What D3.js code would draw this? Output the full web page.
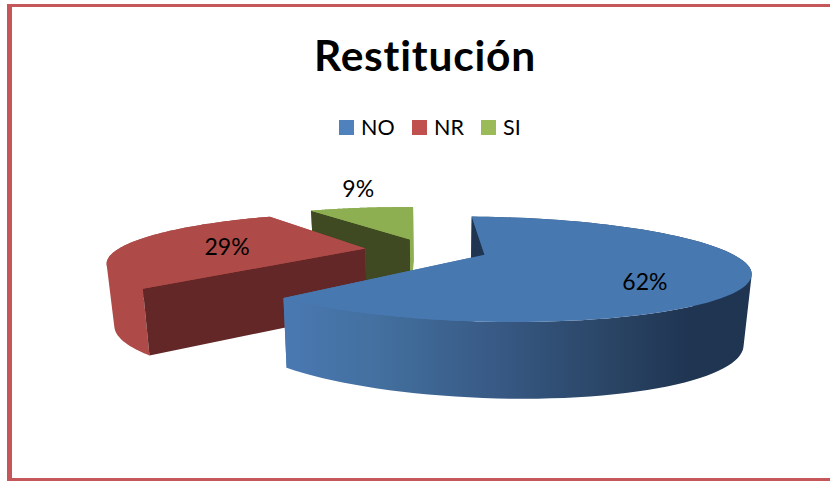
<!DOCTYPE html>
<html>
<head>
<meta charset="utf-8">
<script src="https://cdn.jsdelivr.net/npm/d3@7/dist/d3.min.js"></script>
<style>html,body{margin:0;padding:0;background:#fff}svg{display:block}text{font-family:Lato,"Open Sans",sans-serif;fill:#000;font-variant-ligatures:none}</style>
</head>
<body>
<div id="chart"></div>
<script>
const titleText = "Restitución";
const categories = ["NO", "NR", "SI"];
const values = [62, 29, 9];
const legendColors = ["#4f81bd", "#c0504d", "#9bbb59"];
const topColors = ["#4878b0", "#ae4a47", "#8eae52"];
const wallColors = ["#1f3552", "#622726", "#3f4a22"];
const labelOffsets = [[0.55, 0.44], [-0.572, 0.01], [-0.46, -1.77]];

const W = 830, H = 481;
const svg = d3.select("#chart").append("svg").attr("width", W).attr("height", H);
svg.append("rect").attr("width", W).attr("height", H).attr("fill", "#fff");

// frame: open on the right, as in the source image
const frameColor = "#c5565a";
svg.append("rect").attr("x", 7).attr("y", 4).attr("width", 823).attr("height", 3).attr("fill", frameColor);
svg.append("rect").attr("x", 7).attr("y", 4).attr("width", 5).attr("height", 477).attr("fill", frameColor);
svg.append("rect").attr("x", 7).attr("y", 478).attr("width", 823).attr("height", 3).attr("fill", frameColor);

// title + legend
svg.append("text").attr("x", 425).attr("y", 71).attr("text-anchor", "middle")
  .attr("font-size", 42.5).attr("letter-spacing", 0.8).attr("font-weight", 700).text(titleText);
const legendX = d3.scaleOrdinal().domain(categories).range([339, 412, 481]);
const lg = svg.append("g").selectAll("g").data(categories).join("g")
  .attr("transform", d => `translate(${legendX(d)},120)`);
lg.append("rect").attr("width", 15).attr("height", 15).attr("fill", (d, i) => legendColors[i]);
lg.append("text").attr("x", 22).attr("y", 15).attr("font-size", 21.5).text(d => d);

// pie geometry
const startDeg = -3.3, explode = 0.25, k = 0.27, m = 0.015;
const pie = d3.pie().sort(null).value(d => d)
  .startAngle(startDeg * Math.PI / 180)
  .endAngle((startDeg + 360) * Math.PI / 180);
const arcs = pie(values);

const planes = {
  top:    { x0: 426, y0: 250, sx: d3.scaleLinear().domain([0, 1]).range([0, 245]), sy: d3.scaleLinear().domain([0, 1]).range([0, 46]), t: -14, s: 4 },
  bottom: { x0: 426, y0: 313, sx: d3.scaleLinear().domain([0, 1]).range([0, 239]), sy: d3.scaleLinear().domain([0, 1]).range([0, 54]), t: -14, s: 7.4 }
};
function project(p, u, v) {
  const den = 1 - k * v - m * u;
  return [p.x0 + (p.sx(u) + p.t * v) / den, p.y0 + (p.sy(v) + p.s * u) / den];
}
const line = d3.line();

const defs = svg.append("defs");
const grad = defs.append("linearGradient").attr("id", "blueWall")
  .attr("gradientUnits", "userSpaceOnUse").attr("x1", 283).attr("x2", 750).attr("y1", 0).attr("y2", 0);
[[0, "#4a78b2"], [0.2, "#43709f"], [0.45, "#385a85"], [0.75, "#27405f"], [0.87, "#1f3552"], [1, "#1f3552"]]
  .forEach(([o, c]) => grad.append("stop").attr("offset", o).attr("stop-color", c));

const order = [2, 1, 0];
const pieG = svg.append("g");
order.forEach(i => {
  const a = arcs[i];
  const mid = (a.startAngle + a.endAngle) / 2;
  const ax = explode * Math.sin(mid), ay = -explode * Math.cos(mid);
  const steps = d3.range(0, 97).map(j => a.startAngle + (a.endAngle - a.startAngle) * j / 96);
  const rim = plane => steps.map(t => project(plane, ax + Math.sin(t), ay - Math.cos(t)));
  const apex = plane => project(plane, ax, ay);
  const topRim = rim(planes.top), botRim = rim(planes.bottom);
  const g = pieG.append("g");

  // closing radial wall, outer wall as one union of swept quads, opening radial wall, then the top face
  const last = topRim.length - 1;
  g.append("path").attr("fill", topColors[i])
    .attr("d", line([apex(planes.top), topRim[last], botRim[last], apex(planes.bottom)]) + "Z");
  const wallFill = i === 0 ? "url(#blueWall)" : topColors[i];
  const quads = d3.range(last).map(j => {
    const q = [topRim[j], topRim[j + 1], botRim[j + 1], botRim[j]];
    if (d3.polygonArea(q) < 0) q.reverse();
    return line(q) + "Z";
  });
  g.append("path").attr("fill", wallFill).attr("fill-rule", "nonzero").attr("d", quads.join(""));
  g.append("path").attr("fill", wallColors[i])
    .attr("d", line([apex(planes.top), topRim[0], botRim[0], apex(planes.bottom)]) + "Z");
  g.append("path").attr("fill", topColors[i])
    .attr("d", line([apex(planes.top)].concat(topRim)) + "Z");
});

// data labels
const lbl = svg.append("g");
arcs.forEach((a, i) => {
  const mid = (a.startAngle + a.endAngle) / 2;
  const ax = explode * Math.sin(mid), ay = -explode * Math.cos(mid);
  const [x, y] = project(planes.top, ax + labelOffsets[i][0], ay + labelOffsets[i][1]);
  lbl.append("text").attr("x", x).attr("y", y + 8).attr("text-anchor", "middle")
    .attr("font-size", 23).text(a.data + "%");
});
</script>
</body>
</html>
